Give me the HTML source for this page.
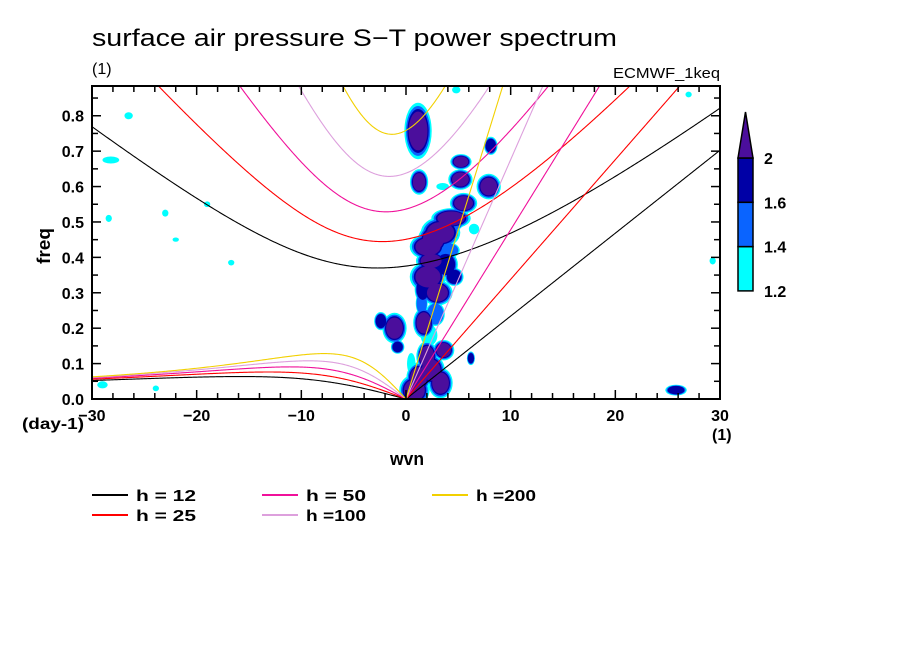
<!DOCTYPE html>
<html><head><meta charset="utf-8"><style>
html,body{margin:0;padding:0;background:#fff;}
svg{display:block;font-family:"Liberation Sans",sans-serif;}
</style></head><body>
<svg id="chart" width="904" height="654" viewBox="0 0 904 654" xmlns="http://www.w3.org/2000/svg">
<defs><clipPath id="pc"><rect x="92" y="86" width="628" height="313"/></clipPath></defs>
<rect width="904" height="654" fill="#fff"/>
<text x="92" y="46" font-size="24" textLength="525" lengthAdjust="spacingAndGlyphs">surface air pressure S−T power spectrum</text>
<text x="92" y="74" font-size="16">(1)</text>
<text x="613" y="78" font-size="15" textLength="107" lengthAdjust="spacingAndGlyphs">ECMWF_1keq</text>
<g id="blobs" clip-path="url(#pc)"></g>
<g id="curves" clip-path="url(#pc)"></g>
<g id="axes"></g>
<text x="22" y="429" font-size="16" font-weight="bold" textLength="62" lengthAdjust="spacingAndGlyphs">(day-1)</text>
<text x="712" y="440" font-size="16" font-weight="bold">(1)</text>
<text x="390" y="465" font-size="18" font-weight="bold" textLength="34" lengthAdjust="spacingAndGlyphs">wvn</text>
<text x="0" y="0" font-size="18" font-weight="bold" transform="translate(50,264) rotate(-90)" textLength="36" lengthAdjust="spacingAndGlyphs">freq</text>
<g id="cbar"></g>
<g id="legend"></g>
</svg>
<script>
const depths = [12, 25, 50, 100, 200];
const depthLabels = ["h = 12", "h = 25", "h = 50", "h =100", "h =200"];
const depthColors = ["#000000", "#ff0000", "#f0109a", "#dda0dd", "#f2d000"];
const xTicks = [-30, -20, -10, 0, 10, 20, 30];
const yTicks = [0.0, 0.1, 0.2, 0.3, 0.4, 0.5, 0.6, 0.7, 0.8];
const levels = [1.2, 1.4, 1.6, 2];
const levelColors = ["#00ffff", "#0a64ff", "#0000a6", "#4b0e9c"];
// blobs: [wvn, freq, half-width (wvn), half-height (freq), level index 0..3]
const blobWvn  = [1.15,1.25,8.1,5.25,5.2,7.9,5.5,4.3,3.3,2.1,2.4,2.1,3.0,4.6,1.7,-1.1,-2.4,-0.8,3.6,2.4,0.8,6.2,3.3,1.5,2.8,4.0,-26.5,-28.2,-23,-28.4,-16.7,4.8,27,25.8,29.3,-23.9,-29,-19,-22,2.2,5.8,6.5,0.5,3.5,2.6,3.8,1.6,2.0,1.2,4.8];
const blobFreq = [0.757,0.613,0.715,0.67,0.62,0.6,0.553,0.51,0.47,0.43,0.39,0.345,0.30,0.345,0.215,0.2,0.22,0.147,0.138,0.082,0.025,0.115,0.045,0.27,0.24,0.42,0.8,0.675,0.525,0.51,0.385,0.873,0.86,0.025,0.39,0.03,0.04,0.55,0.45,0.18,0.55,0.48,0.1,0.6,0.45,0.38,0.31,0.12,0.06,0.5];
const blobRx   = [0.9,0.6,0.5,0.7,0.8,0.8,0.9,1.3,1.3,1.2,1.0,1.2,1.0,0.7,0.7,0.8,0.5,0.5,0.7,0.9,1.0,0.3,0.8,0.5,0.8,1.0,0.4,0.8,0.3,0.3,0.3,0.4,0.3,0.8,0.3,0.3,0.5,0.3,0.3,0.8,0.6,0.5,0.4,0.6,1.0,0.9,0.6,0.7,0.8,0.6];
const blobRy   = [0.055,0.025,0.02,0.015,0.02,0.025,0.02,0.02,0.03,0.025,0.02,0.03,0.025,0.02,0.03,0.03,0.02,0.015,0.02,0.03,0.03,0.015,0.03,0.03,0.03,0.02,0.01,0.01,0.01,0.01,0.008,0.01,0.008,0.012,0.01,0.008,0.01,0.008,0.006,0.03,0.01,0.015,0.03,0.01,0.03,0.03,0.03,0.03,0.03,0.02];
const blobLevel= [3,3,2,3,3,3,3,3,3,3,3,3,3,2,3,3,2,2,3,3,3,2,3,1,1,1,0,0,0,0,0,0,0,2,0,0,0,0,0,0,0,0,0,0,3,2,2,3,3,1];

const X0=92,X1=720,Y0=399,Y1=86;
const xs = w => X0 + (w + 30) / 60 * (X1 - X0);
const ys = f => Y0 - f / 0.884 * (Y0 - Y1);
const NS='http://www.w3.org/2000/svg';
function mk(tag, attrs, parent){const e=document.createElementNS(NS,tag);for(const k in attrs)e.setAttribute(k,attrs[k]);parent.appendChild(e);return e;}

const bg=document.getElementById('blobs');
const scales=[1.45,1.28,1.13,1.0];
for(let lv=0;lv<4;lv++){
  for(let i=0;i<blobWvn.length;i++){
    if(blobLevel[i]<lv) continue;
    const f=scales[lv]/scales[blobLevel[i]];
    const e=mk('ellipse',{cx:xs(blobWvn[i]),cy:ys(blobFreq[i]),rx:blobRx[i]*10.47*f,ry:Math.max(2,blobRy[i]*354*f),fill:levelColors[lv]},bg);
    
    
  }
}

const g=9.81,beta=2.29e-11,a=6.371e6,toCpd=86400/(2*Math.PI);
const cg=document.getElementById('curves');
function ig(k,c){let w=Math.sqrt(c*c*k*k+3*beta*c);for(let it=0;it<200;it++){const v=c*c*(k*k+3*beta/c+beta*k/w);w=0.5*w+0.5*Math.sqrt(Math.max(v,1e-14));}return w;}
function rossby(k,c){let w=0;for(let it=0;it<100;it++){w=-beta*k/(k*k+3*beta/c-w*w/(c*c));}return w;}
depths.forEach((h,di)=>{
  const c=Math.sqrt(g*h);const col=depthColors[di];
  let p1=[],p2=[],p3=[];
  for(let n=0;n<=600;n++){
    const wv=-30+n*0.1;const k=wv/a;
    p1.push(xs(wv).toFixed(2)+','+ys(ig(k,c)*toCpd).toFixed(2));
    if(wv<=0) p2.push(xs(wv).toFixed(2)+','+ys(rossby(k,c)*toCpd).toFixed(2));
    if(wv>=0) p3.push(xs(wv).toFixed(2)+','+ys(c*k*toCpd).toFixed(2));
  }
  [['ig',p1],['rossby',p2],['kelvin',p3]].forEach(([nm,p])=>{
    const e=mk('polyline',{points:p.join(' '),fill:'none',stroke:col,'stroke-width':1.1},cg);
    
    
  });
});

const ax=document.getElementById('axes');
for(let w=-30;w<=30;w+=2){
  const L=(w%10===0)?9:6;
  mk('line',{x1:xs(w),x2:xs(w),y1:Y0,y2:Y0-L,stroke:'#000','stroke-width':1.5},ax);
  mk('line',{x1:xs(w),x2:xs(w),y1:Y1,y2:Y1+L,stroke:'#000','stroke-width':1.5},ax);
}
for(let j=0;j<=17;j++){
  const f=j*0.05;const L=(j%2===0)?9:6;
  mk('line',{x1:X0,x2:X0+L,y1:ys(f),y2:ys(f),stroke:'#000','stroke-width':1.5},ax);
  mk('line',{x1:X1,x2:X1-L,y1:ys(f),y2:ys(f),stroke:'#000','stroke-width':1.5},ax);
}
const fr=mk('rect',{x:X0,y:Y1,width:X1-X0,height:Y0-Y1,fill:'none',stroke:'#000','stroke-width':2},ax);


xTicks.forEach(t=>{
  const e=mk('text',{x:xs(t),y:Y0+22,'font-size':16,'font-weight':'bold','text-anchor':'middle'},ax);
  e.textContent=(t<0?'−':'')+Math.abs(t);
  
  
});
yTicks.forEach(t=>{
  const e=mk('text',{x:X0-8,y:ys(t)+6,'font-size':16,'font-weight':'bold','text-anchor':'end'},ax);
  e.textContent=t.toFixed(1);
  
  
});

const cb=document.getElementById('cbar');
const cbx=738,cbw=15,cbTop=158,seg=44.3;
for(let i=0;i<3;i++){
  const y=cbTop+(2-i)*seg;
  const r=mk('rect',{x:cbx,y:y,width:cbw,height:seg,fill:levelColors[i],stroke:'#000','stroke-width':1.5},cb);
  
  
}
const tri=mk('polygon',{points:`${cbx},${cbTop} ${cbx+cbw},${cbTop} ${cbx+cbw/2},112`,fill:levelColors[3],stroke:'#000','stroke-width':1.5},cb);


levels.forEach((lv,i)=>{
  const e=mk('text',{x:764,y:cbTop+(3-i)*seg+6,'font-size':16,'font-weight':'bold'},cb);
  e.textContent=String(lv);
  
  
});

const lg=document.getElementById('legend');
depths.forEach((h,i)=>{
  const col=Math.floor(i/2),row=i%2;
  const x=92+col*170,y=495+row*20;
  const l=mk('line',{x1:x,x2:x+36,y1:y,y2:y,stroke:depthColors[i],'stroke-width':2},lg);
  
  
  const t=mk('text',{x:x+44,y:y+6,'font-size':16,'font-weight':'bold',textLength:60,lengthAdjust:'spacingAndGlyphs'},lg);
  t.textContent=depthLabels[i];
  
  
});
</script>
</body></html>
